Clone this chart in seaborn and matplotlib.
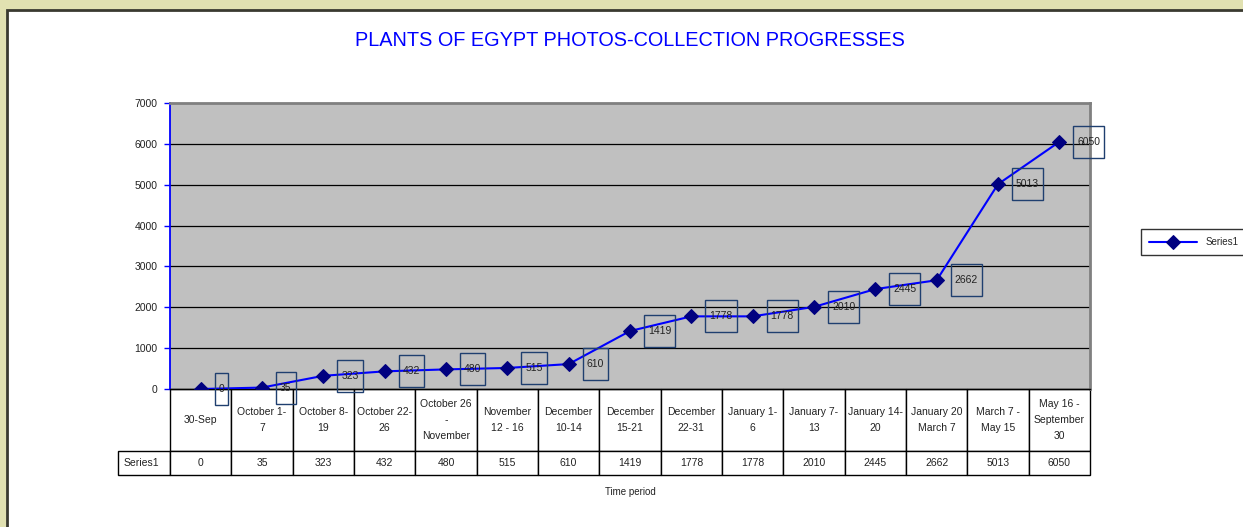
import matplotlib.pyplot as plt
import matplotlib.transforms as mtransforms
import pandas as pd
import seaborn as sns
from matplotlib.patches import Rectangle

periods = [
    "30-Sep",
    "October 1-\n7",
    "October 8-\n19",
    "October 22-\n26",
    "October 26\n-\nNovember",
    "November\n12 - 16",
    "December\n10-14",
    "December\n15-21",
    "December\n22-31",
    "January 1-\n6",
    "January 7-\n13",
    "January 14-\n20",
    "January 20\nMarch 7",
    "March 7 -\nMay 15",
    "May 16 -\nSeptember\n30",
]
photos = [0, 35, 323, 432, 480, 515, 610, 1419, 1778, 1778, 2010, 2445, 2662, 5013, 6050]
series_name = "Series1"
y_ticks = [0, 1000, 2000, 3000, 4000, 5000, 6000, 7000]

W, H = 1243, 527
sns.set_theme(style="white")
plt.rcParams["font.family"] = ["Liberation Sans", "DejaVu Sans"]

fig = plt.figure(figsize=(W / 100, H / 100), dpi=100)
fig.patch.set_facecolor("#e1e1b1")
fig.patches.append(
    Rectangle((7 / W, -0.1), 1.2, (H - 10) / H + 0.1, transform=fig.transFigure,
              facecolor="white", edgecolor="#3a3a30", linewidth=2, zorder=-5)
)

ax = fig.add_axes([170 / W, (H - 389) / H, 920 / W, 286 / H])
ax.set_facecolor("#c0c0c0")

df = pd.DataFrame({"pos": range(len(periods)), "photos": photos})
sns.lineplot(data=df, x="pos", y="photos", ax=ax, color="#0000ff", linewidth=1.5,
             marker="D", markersize=7, markerfacecolor="#000080",
             markeredgecolor="#000080", label=series_name, zorder=3)

ax.set_xlim(-0.5, len(periods) - 0.5)
ax.set_ylim(0, 7000)
ax.set_yticks(y_ticks)
ax.set_xticks([])
ax.tick_params(axis="y", labelsize=7.5, length=4, width=1, color="#0000ff",
               labelcolor="#222222", pad=5, left=True)
for y in y_ticks[1:-1]:
    ax.axhline(y, color="black", linewidth=0.9, zorder=1)
ax.spines["left"].set_color("#0000ff")
ax.spines["left"].set_linewidth(1.3)
ax.spines["bottom"].set_color("black")
ax.spines["bottom"].set_linewidth(1)
for side in ("top", "right"):
    ax.spines[side].set_color("#808080")
    ax.spines[side].set_linewidth(2)
ax.set_xlabel("")
ax.set_ylabel("")

# data labels
labels = []
for i, v in enumerate(photos):
    t = ax.annotate(str(v), (i, v), xytext=(18, 0), textcoords="offset pixels",
                    ha="left", va="center", fontsize=7.5, color="#222222",
                    zorder=5, annotation_clip=False)
    labels.append(t)

# data table (row label cell added by hand so its width stays fixed)
table = ax.table(cellText=[[str(v) for v in photos]], colLabels=periods,
                 cellLoc="center", colWidths=[1 / len(periods)] * len(periods),
                 bbox=[0, -86 / 286, 1, 86 / 286])
table.add_cell(1, -1, width=52 / 920, height=24, text=series_name, loc="left")
table.auto_set_font_size(False)
table.set_fontsize(7.5)
for (r, c), cell in table.get_celld().items():
    cell.set_edgecolor("black")
    cell.set_linewidth(1)
    cell.set_facecolor("white")
    cell.set_height(62 if r == 0 else 24)
    txt = cell.get_text()
    txt.set_linespacing(1.75)
    txt.set_color("#222222")

ax.text(0.5, -103 / 286, "Time period", transform=ax.transAxes, ha="center",
        va="center", fontsize=7, color="#222222")

fig.text(630 / W, 1 - 41 / H, "PLANTS OF EGYPT PHOTOS-COLLECTION PROGRESSES",
         ha="center", va="center", fontsize=14.3, color="#0000ff")

leg = ax.legend(loc="center left", bbox_to_anchor=(1141 / W, 1 - 242 / H),
                bbox_transform=fig.transFigure, borderaxespad=0, fontsize=7,
                frameon=True, fancybox=False, handlelength=5, borderpad=0.8,
                edgecolor="black")
leg.get_frame().set_linewidth(1)
leg.get_frame().set_facecolor("white")

fig.canvas.draw()
for t in labels:
    bb = t.get_window_extent()
    cy = (bb.y0 + bb.y1) / 2
    fig.patches.append(
        Rectangle((bb.x0 - 4, cy - 16), bb.width + 8, 32,
                  transform=mtransforms.IdentityTransform(), fill=False,
                  edgecolor="#1f3f6f", linewidth=1, zorder=4)
    )

fig.savefig("out.png", dpi=100, facecolor=fig.get_facecolor())
